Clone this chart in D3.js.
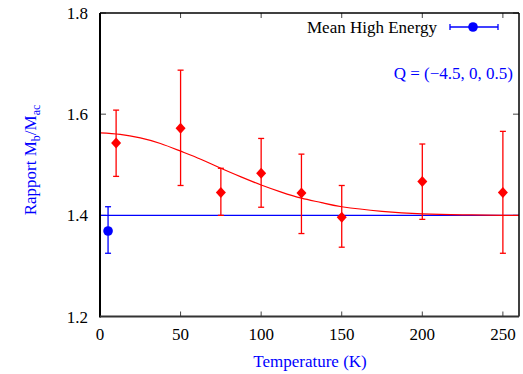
<!DOCTYPE html>
<html><head><meta charset="utf-8">
<script src="https://cdn.jsdelivr.net/npm/d3@7"></script>
<style>body{margin:0;background:#fff}svg{display:block}</style>
</head><body><svg id="c" width="523" height="374"></svg>
<script>
// Data
const temps = [10, 50, 75, 100, 125, 150, 200, 250];
const ratio = [1.543, 1.572, 1.445, 1.483, 1.444, 1.396, 1.467, 1.445];
const errLow = [1.477, 1.459, 1.400, 1.416, 1.364, 1.337, 1.392, 1.325];
const errHigh = [1.608, 1.687, 1.493, 1.552, 1.521, 1.459, 1.541, 1.566];
const meanT = [5];
const meanRatio = [1.369];
const meanLow = [1.325];
const meanHigh = [1.417];
const baseline = 1.4;
const fitT = [0, 12.5, 25, 37.5, 50, 62.5, 75, 87.5, 100, 112.5, 125, 137.5, 150, 175, 200, 225, 250, 260];
const fitRatio = [1.563, 1.560, 1.553, 1.542, 1.527, 1.511, 1.493, 1.476, 1.460, 1.446, 1.434, 1.425, 1.417, 1.408, 1.403, 1.401, 1.400, 1.400];
const xTicks = [0, 50, 100, 150, 200, 250];
const yTicks = [1.2, 1.4, 1.6, 1.8];

const FF = "Liberation Serif";
const svg = d3.select("#c");
const L = 100, R = 519, T = 13, B = 316.5;
const x = d3.scaleLinear().domain([0, 260]).range([L, R]);
const y = d3.scaleLinear().domain([1.2, 1.8]).range([B, T]);

// ticks (inward, all sides)
const tk = svg.append("g").attr("stroke", "#444").attr("stroke-width", 1);
xTicks.forEach(t => {
  tk.append("line").attr("x1", x(t)).attr("x2", x(t)).attr("y1", B).attr("y2", B - 5);
  tk.append("line").attr("x1", x(t)).attr("x2", x(t)).attr("y1", T).attr("y2", T + 5);
});
yTicks.forEach(t => {
  tk.append("line").attr("x1", L).attr("x2", L + 6).attr("y1", y(t)).attr("y2", y(t));
  tk.append("line").attr("x1", R).attr("x2", R - 6).attr("y1", y(t)).attr("y2", y(t));
});

// tick labels
svg.append("g").selectAll("text").data(xTicks).join("text")
  .attr("font-family", FF)
  .attr("x", d => x(d)).attr("y", 340).attr("text-anchor", "middle")
  .attr("font-size", 17).attr("fill", "#000").text(d => d);
svg.append("g").selectAll("text").data(yTicks).join("text")
  .attr("font-family", FF)
  .attr("x", 88).attr("y", d => y(d) + 6).attr("text-anchor", "end")
  .attr("font-size", 17).attr("fill", "#000").text(d => d.toFixed(1));

// baseline
svg.append("line").attr("x1", x(0)).attr("x2", x(260)).attr("y1", y(baseline)).attr("y2", y(baseline))
  .attr("stroke", "#0000ff").attr("stroke-width", 1.2);

// fit curve
const line = d3.line().x((d, i) => x(fitT[i])).y(d => y(d)).curve(d3.curveNatural);
svg.append("path").attr("d", line(fitRatio)).attr("fill", "none").attr("stroke", "#ff0000").attr("stroke-width", 1.2);

// red error bars
const eb = svg.append("g").attr("stroke", "#ff0000").attr("stroke-width", 1.3);
temps.forEach((t, i) => {
  eb.append("line").attr("x1", x(t)).attr("x2", x(t)).attr("y1", y(errLow[i])).attr("y2", y(errHigh[i]));
  eb.append("line").attr("x1", x(t) - 3).attr("x2", x(t) + 3).attr("y1", y(errLow[i])).attr("y2", y(errLow[i]));
  eb.append("line").attr("x1", x(t) - 3).attr("x2", x(t) + 3).attr("y1", y(errHigh[i])).attr("y2", y(errHigh[i]));
});
svg.append("g").selectAll("path").data(temps).join("path")
  .attr("transform", (d, i) => `translate(${x(d)},${y(ratio[i])})`)
  .attr("d", "M0,-5.5L5,0L0,5.5L-5,0Z").attr("fill", "#ff0000");

// blue mean point
const bb = svg.append("g").attr("stroke", "#0000ff").attr("stroke-width", 1.3);
meanT.forEach((t, i) => {
  bb.append("line").attr("x1", x(t)).attr("x2", x(t)).attr("y1", y(meanLow[i])).attr("y2", y(meanHigh[i]));
  bb.append("line").attr("x1", x(t) - 3).attr("x2", x(t) + 3).attr("y1", y(meanLow[i])).attr("y2", y(meanLow[i]));
  bb.append("line").attr("x1", x(t) - 3).attr("x2", x(t) + 3).attr("y1", y(meanHigh[i])).attr("y2", y(meanHigh[i]));
  svg.append("circle").attr("cx", x(t)).attr("cy", y(meanRatio[i])).attr("r", 4.8).attr("fill", "#0000ff");
});

// frame
svg.append("line").attr("x1", L).attr("x2", R).attr("y1", T).attr("y2", T).attr("stroke", "#000").attr("stroke-width", 1.5);
svg.append("line").attr("x1", R).attr("x2", R).attr("y1", T).attr("y2", B).attr("stroke", "#000").attr("stroke-width", 1.5);
svg.append("line").attr("x1", L).attr("x2", L).attr("y1", T).attr("y2", B + 1).attr("stroke", "#000").attr("stroke-width", 2);
svg.append("line").attr("x1", L).attr("x2", R).attr("y1", B).attr("y2", B).attr("stroke", "#333").attr("stroke-width", 2);

// legend
svg.append("text").attr("font-family", FF).attr("x", 437).attr("y", 33).attr("text-anchor", "end").attr("font-size", 17).attr("fill", "#000").text("Mean High Energy");
const lg = svg.append("g").attr("stroke", "#0000ff").attr("stroke-width", 1.3);
lg.append("line").attr("x1", 450).attr("x2", 498).attr("y1", 27).attr("y2", 27);
lg.append("line").attr("x1", 450).attr("x2", 450).attr("y1", 24).attr("y2", 30);
lg.append("line").attr("x1", 498).attr("x2", 498).attr("y1", 24).attr("y2", 30);
svg.append("circle").attr("cx", 473).attr("cy", 27).attr("r", 4.8).attr("fill", "#0000ff");

svg.append("text").attr("font-family", FF).attr("x", 513).attr("y", 79).attr("text-anchor", "end").attr("font-size", 17).attr("fill", "#0000ff").text("Q = (\u22124.5, 0, 0.5)");

// axis titles
svg.append("text").attr("font-family", FF).attr("x", 310).attr("y", 367).attr("text-anchor", "middle").attr("font-size", 17).attr("fill", "#0000ff").text("Temperature (K)");
const yl = svg.append("text").attr("font-family", FF).attr("transform", "translate(36,160) rotate(-90)").attr("text-anchor", "middle")
  .attr("font-size", 17).attr("fill", "#0000ff");
yl.append("tspan").text("Rapport M");
yl.append("tspan").attr("font-size", 12).attr("dy", 4).text("b");
yl.append("tspan").attr("dy", -4).text("/M");
yl.append("tspan").attr("font-size", 12).attr("dy", 4).text("ac");
</script></body></html>
